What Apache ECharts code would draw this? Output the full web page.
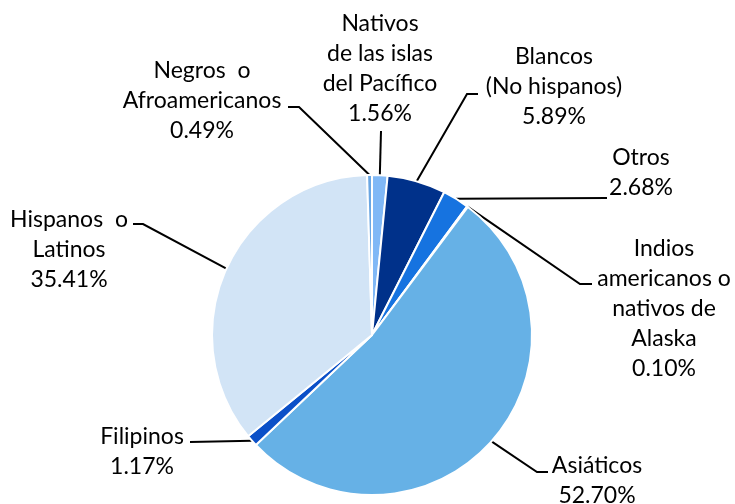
<!DOCTYPE html>
<html>
<head>
<meta charset="utf-8">
<script src="https://cdn.jsdelivr.net/npm/echarts@6/dist/echarts.min.js"></script>
<style>
  html, body { margin: 0; padding: 0; background: #fff; }
  #chart { width: 735px; height: 504px; }
</style>
</head>
<body>
<div id="chart"></div>
<script>
// ---- Data ----
const categories = [
  'Nativos de las islas del Pacífico',
  'Blancos (No hispanos)',
  'Otros',
  'Indios americanos o nativos de Alaska',
  'Asiáticos',
  'Filipinos',
  'Hispanos o Latinos',
  'Negros o Afroamericanos'
];
const labelNames = [
  'Nativos\nde las islas\ndel Pacífico',
  'Blancos\n(No hispanos)',
  'Otros',
  'Indios\namericanos o\nnativos de\nAlaska',
  'Asiáticos',
  'Filipinos',
  'Hispanos  o\nLatinos',
  'Negros  o\nAfroamericanos'
];
const values = [1.56, 5.89, 2.68, 0.10, 52.70, 1.17, 35.41, 0.49];

// ---- Styles / layout ----
const colors = ['#80B8F6', '#00318A', '#1673E0', '#3E8AE0', '#66B1E6', '#0B50C8', '#D2E4F6', '#6AA6E2'];
// label block centres
const labelPos = [
  [380, 69], [554, 87], [641, 173], [664, 309],
  [597, 481], [142, 452], [69, 250], [202, 101]
];
// leader line bend + end points
const lineBends = [
  [[381, 131]],
  [[467, 94], [478, 94]],
  [[607, 198]],
  [[580, 284], [592, 284]],
  [[537, 472], [548, 472]],
  [[190, 442]],
  [[143, 224], [133, 224]],
  [[299, 107], [288, 107]]
];

const chart = echarts.init(document.getElementById('chart'));
chart.setOption({
  animation: false,
  backgroundColor: '#fff',
  series: [{
    type: 'pie',
    center: [372, 335],
    radius: 160,
    startAngle: 90,
    clockwise: true,
    avoidLabelOverlap: false,
    data: values.map((v, i) => ({
      name: categories[i],
      value: v,
      itemStyle: { color: colors[i] }
    })),
    itemStyle: { borderColor: '#fff', borderWidth: 2 },
    label: {
      show: true,
      position: 'outside',
      fontFamily: 'Lato',
      fontSize: 23,
      lineHeight: 30,
      color: '#000',
      align: 'center',
      formatter: p => labelNames[p.dataIndex] + '\n' + p.value.toFixed(2) + '%'
    },
    labelLine: {
      show: true,
      length: 10,
      length2: 10,
      smooth: false,
      lineStyle: { color: '#000', width: 2 }
    },
    emphasis: { disabled: true },
    labelLayout: function (params) {
      const i = params.dataIndex;
      const pts = params.labelLinePoints;
      const start = pts ? pts[0] : [0, 0];
      return {
        x: labelPos[i][0],
        y: labelPos[i][1],
        align: 'center',
        verticalAlign: 'middle',
        labelLinePoints: [start].concat(lineBends[i])
      };
    }
  }]
});
</script>
</body>
</html>
